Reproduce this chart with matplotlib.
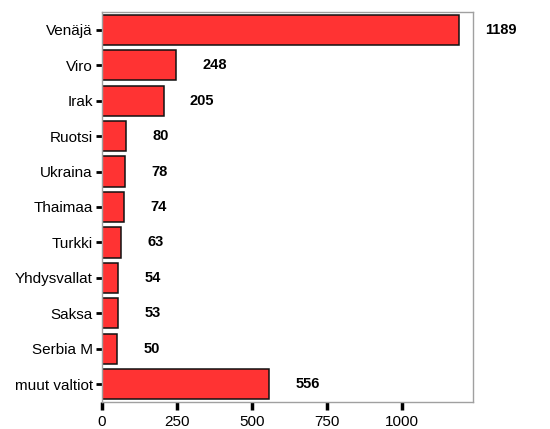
import matplotlib
matplotlib.use("Agg")
import matplotlib.pyplot as plt

countries = ["Venäjä", "Viro", "Irak", "Ruotsi", "Ukraina", "Thaimaa",
             "Turkki", "Yhdysvallat", "Saksa", "Serbia M", "muut valtiot"]
values = [1189, 248, 205, 80, 78, 74, 63, 54, 53, 50, 556]
xticks = [0, 250, 500, 750, 1000]

plt.rcParams['font.family'] = ['Liberation Sans', 'DejaVu Sans']

fig = plt.figure(figsize=(5.5, 4.29), dpi=100)
ax = fig.add_axes([0.1855, 0.063, 0.675, 0.909])

pos = list(range(len(countries)))
ax.barh(pos, values, height=0.85, color='#ff3333', edgecolor='#111111', linewidth=1.1)

for p, v in zip(pos, values):
    ax.text(v + 88, p, str(v), va='center', ha='left', fontsize=10.5, fontweight='bold')

ax.set_yticks(pos)
ax.set_yticklabels(countries, fontsize=11)
ax.set_xticks(xticks)
ax.set_xticklabels([str(t) for t in xticks], fontsize=11)
ax.set_xlim(0, 1237)
ax.set_ylim(len(countries) - 0.5, -0.5)

for s in ax.spines.values():
    s.set_color('#a0a0a0')
    s.set_linewidth(1)
ax.tick_params(axis='y', length=4.5, width=2, color='black', pad=2)
ax.tick_params(axis='x', length=5.5, width=2.5, color='black', pad=4)

fig.savefig("out.png", dpi=100)
